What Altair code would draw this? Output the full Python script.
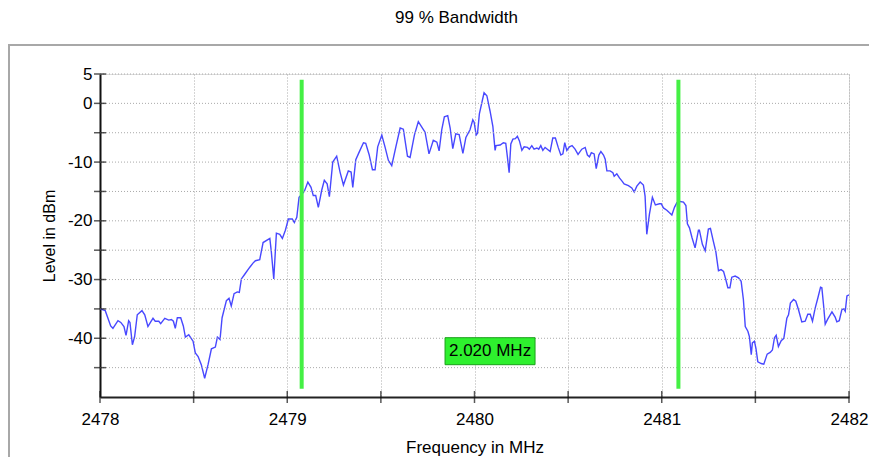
import altair as alt
import pandas as pd

# ---- data ----
freq = [
    2478.000, 2478.028, 2478.057, 2478.069, 2478.096, 2478.111, 2478.128, 2478.139, 2478.153, 2478.160,
    2478.173, 2478.185, 2478.199, 2478.224, 2478.239, 2478.256, 2478.271, 2478.283, 2478.295, 2478.314,
    2478.324, 2478.346, 2478.367, 2478.381, 2478.392, 2478.402, 2478.413, 2478.431, 2478.445, 2478.456,
    2478.474, 2478.497, 2478.509, 2478.524, 2478.541, 2478.559, 2478.577, 2478.595, 2478.616, 2478.627,
    2478.641, 2478.652, 2478.675, 2478.689, 2478.701, 2478.716, 2478.733, 2478.744, 2478.755, 2478.773,
    2478.800, 2478.817, 2478.830, 2478.853, 2478.871, 2478.907, 2478.915, 2478.928, 2478.942, 2478.960,
    2478.974, 2478.990, 2479.006, 2479.027, 2479.038, 2479.051, 2479.063, 2479.091, 2479.110, 2479.127,
    2479.139, 2479.152, 2479.166, 2479.184, 2479.198, 2479.213, 2479.225, 2479.243, 2479.264, 2479.282,
    2479.300, 2479.326, 2479.341, 2479.350, 2479.366, 2479.384, 2479.407, 2479.419, 2479.437, 2479.455,
    2479.469, 2479.483, 2479.505, 2479.522, 2479.540, 2479.558, 2479.580, 2479.603, 2479.620, 2479.642,
    2479.656, 2479.679, 2479.700, 2479.722, 2479.736, 2479.757, 2479.780, 2479.799, 2479.811, 2479.825,
    2479.839, 2479.857, 2479.870, 2479.884, 2479.900, 2479.918, 2479.938, 2479.954, 2479.976, 2479.991,
    2479.998, 2480.009, 2480.016, 2480.026, 2480.051, 2480.066, 2480.083, 2480.098, 2480.110, 2480.115,
    2480.137, 2480.154, 2480.167, 2480.176, 2480.185, 2480.194, 2480.205, 2480.218, 2480.229, 2480.240,
    2480.253, 2480.265, 2480.283, 2480.293, 2480.306, 2480.318, 2480.333, 2480.343, 2480.354, 2480.365,
    2480.377, 2480.389, 2480.404, 2480.418, 2480.432, 2480.447, 2480.461, 2480.472, 2480.482, 2480.493,
    2480.507, 2480.521, 2480.537, 2480.553, 2480.573, 2480.591, 2480.603, 2480.614, 2480.624, 2480.639,
    2480.650, 2480.664, 2480.675, 2480.689, 2480.698, 2480.707, 2480.724, 2480.739, 2480.746, 2480.760,
    2480.774, 2480.787, 2480.799, 2480.822, 2480.840, 2480.853, 2480.867, 2480.885, 2480.902, 2480.911,
    2480.920, 2480.934, 2480.950, 2480.966, 2480.988, 2480.997, 2481.009, 2481.027, 2481.040, 2481.054,
    2481.068, 2481.081, 2481.098, 2481.116, 2481.129, 2481.137, 2481.148, 2481.161, 2481.178, 2481.196,
    2481.201, 2481.217, 2481.232, 2481.249, 2481.260, 2481.275, 2481.289, 2481.303, 2481.317, 2481.330,
    2481.342, 2481.353, 2481.364, 2481.374, 2481.392, 2481.410, 2481.424, 2481.436, 2481.446, 2481.460,
    2481.468, 2481.478, 2481.484, 2481.495, 2481.503, 2481.513, 2481.531, 2481.545, 2481.563, 2481.579,
    2481.591, 2481.602, 2481.611, 2481.623, 2481.638, 2481.652, 2481.668, 2481.677, 2481.687, 2481.704,
    2481.716, 2481.730, 2481.748, 2481.766, 2481.780, 2481.793, 2481.805, 2481.819, 2481.834, 2481.848,
    2481.855, 2481.864, 2481.873, 2481.887, 2481.909, 2481.926, 2481.935, 2481.948, 2481.962, 2481.973,
    2481.980, 2481.989, 2482.000,
]
level = [
    -35.0, -35.3, -37.9, -38.3, -37.0, -37.3, -38.0, -39.5, -37.0, -37.3,
    -41.1, -39.7, -36.0, -35.3, -36.0, -38.0, -37.2, -36.6, -37.1, -37.1,
    -37.5, -36.6, -36.9, -36.8, -37.1, -38.3, -36.5, -36.5, -37.9, -39.8,
    -39.4, -40.5, -42.5, -43.1, -44.5, -46.8, -44.5, -41.8, -41.5, -39.8,
    -40.2, -36.5, -33.6, -33.2, -34.5, -32.4, -32.1, -32.2, -29.9, -29.1,
    -27.9, -27.2, -26.8, -26.6, -23.7, -23.0, -25.3, -29.9, -22.1, -22.3,
    -23.0, -21.6, -19.7, -19.7, -20.3, -19.4, -16.0, -15.0, -13.4, -14.3,
    -15.7, -15.7, -17.7, -14.8, -13.1, -13.7, -15.9, -10.0, -9.0, -11.7,
    -13.9, -11.5, -11.7, -14.3, -9.6, -8.3, -6.7, -6.8, -8.7, -11.3,
    -11.3, -7.4, -5.4, -7.4, -9.7, -10.6, -7.4, -4.2, -4.4, -9.0,
    -9.2, -5.4, -3.1, -4.2, -4.9, -8.6, -6.3, -6.6, -8.1, -4.5,
    -2.3, -2.1, -4.2, -7.7, -5.2, -5.3, -8.5, -5.8, -4.5, -2.8,
    -3.2, -5.4, -5.1, -1.8, 1.8, 1.3, -1.3, -3.9, -8.0, -7.2,
    -7.1, -6.7, -6.8, -9.2, -11.8, -6.9, -6.1, -6.0, -5.6, -6.4,
    -8.0, -7.4, -7.5, -7.8, -7.2, -7.8, -7.6, -7.8, -7.2, -8.0,
    -7.5, -7.8, -8.2, -5.9, -5.9, -7.5, -8.8, -8.6, -6.7, -8.0,
    -7.4, -7.2, -7.8, -8.7, -7.8, -7.5, -8.8, -9.1, -8.4, -8.6,
    -11.1, -8.8, -8.2, -8.8, -9.5, -11.5, -11.5, -11.8, -12.4, -12.0,
    -12.7, -13.2, -13.7, -14.0, -14.4, -15.1, -14.1, -13.4, -13.9, -15.8,
    -22.3, -18.9, -16.0, -17.3, -17.1, -17.1, -17.8, -18.2, -18.6, -19.0,
    -17.7, -16.9, -16.7, -16.8, -17.4, -20.5, -21.2, -22.8, -24.6, -21.6,
    -21.6, -24.0, -25.1, -21.4, -21.3, -23.4, -25.3, -28.5, -28.3, -28.6,
    -30.0, -31.4, -31.4, -29.6, -29.4, -29.7, -30.3, -33.4, -38.0, -38.8,
    -39.7, -42.8, -40.8, -40.5, -41.7, -44.0, -44.3, -44.4, -42.7, -42.4,
    -42.0, -39.9, -39.5, -41.4, -40.4, -40.0, -36.6, -36.0, -34.0, -33.4,
    -33.7, -35.1, -37.2, -37.1, -35.9, -35.9, -37.1, -34.9, -33.1, -31.3,
    -31.4, -34.3, -37.6, -36.7, -35.5, -36.4, -37.2, -37.0, -35.1, -35.0,
    -35.4, -32.8, -32.6,
]
marker_freq = [2479.077, 2481.089]
marker_top = 4.0
marker_bottom = -48.6
bw_label = "2.020 MHz"
bw_label_freq = 2480.083
bw_label_level = -42.2
x_tick_values = [2478, 2478.5, 2479, 2479.5, 2480, 2480.5, 2481, 2481.5, 2482]
y_label_values = [5, 0, -10, -20, -30, -40]
y_tick_values = [-45, -40, -35, -30, -25, -20, -15, -10, -5, 0, 5]

FONT = "Liberation Sans"
W, H = 749, 323

trace = pd.DataFrame({"f": freq, "lvl": level})
markers = pd.DataFrame({"f": marker_freq, "top": [marker_top] * 2, "bot": [marker_bottom] * 2})
label_df = pd.DataFrame({"f": [bw_label_freq], "lvl": [bw_label_level], "t": [bw_label]})
xt = pd.DataFrame({"f": x_tick_values, "lvl": [-50] * len(x_tick_values)})
yt = pd.DataFrame({"f": [2478] * len(y_tick_values), "lvl": y_tick_values})
yg = pd.DataFrame({"f0": [2478] * len(y_tick_values), "f1": [2482] * len(y_tick_values),
                   "lvl": y_tick_values})

xs = alt.Scale(domain=[2478, 2482], nice=False, zero=False)
ys = alt.Scale(domain=[-50, 5], nice=False, zero=False)

x_axis = alt.Axis(
    values=x_tick_values, title="Frequency in MHz",
    labelExpr="datum.value % 1 == 0 ? '' + datum.value : ''",
    ticks=False, labelPadding=14, labelFontSize=17, labelColor="black", labelFont=FONT,
    titleFontSize=17, titleFont=FONT, titleFontWeight="normal", titleColor="black", titlePadding=12,
    grid=True, gridDash=[1, 2], gridColor="#aaaaaa", gridWidth=1,
    domainColor="#222222", domainWidth=2, labelFlush=False, labelOverlap=False,
)
y_axis = alt.Axis(
    values=y_label_values, title="Level in dBm",
    labelExpr="'' + datum.value",
    ticks=False, labelPadding=8, labelFontSize=17, labelColor="black", labelFont=FONT,
    titleFontSize=16, titleFont=FONT, titleFontWeight="normal", titleColor="black", titlePadding=10,
    grid=False, domainColor="#111111", domainWidth=2, labelOverlap=False, labelFlush=False,
)

frame = alt.Chart(pd.DataFrame({"a": [0]})).mark_rect(
    fillOpacity=0, stroke="#a8a8a8", strokeWidth=2
).encode(x=alt.value(-91), x2=alt.value(810), y=alt.value(-29), y2=alt.value(420))

ygrid = alt.Chart(yg).mark_rule(color="#aaaaaa", strokeWidth=1, strokeDash=[1, 2]).encode(
    x=alt.X("f0:Q", scale=xs), x2="f1:Q", y=alt.Y("lvl:Q", scale=ys)
)

line = alt.Chart(trace).mark_line(color="#4848ff", strokeWidth=1.4).encode(
    x=alt.X("f:Q", scale=xs, axis=x_axis),
    y=alt.Y("lvl:Q", scale=ys, axis=y_axis),
)

mk = alt.Chart(markers).mark_rule(color="#44f044", strokeWidth=4).encode(
    x="f:Q", y="top:Q", y2="bot:Q"
)

box = alt.Chart(label_df).mark_rect(
    width=90, height=27, fill="#2ef02e", stroke="#1aa01a", strokeWidth=1
).encode(x="f:Q", y="lvl:Q")

txt = alt.Chart(label_df).mark_text(
    font=FONT, fontSize=17, color="black", align="center", baseline="middle"
).encode(x="f:Q", y="lvl:Q", text="t:N")

xticks = alt.Chart(xt).mark_tick(orient="vertical", size=12, thickness=1.5, color="#111111").encode(
    x="f:Q", y="lvl:Q"
)
yticks = alt.Chart(yt).mark_tick(orient="horizontal", size=12, thickness=1.5, color="#111111").encode(
    x="f:Q", y="lvl:Q"
)

chart = alt.layer(line, ygrid, frame, mk, box, txt, xticks, yticks).properties(
    width=W, height=H,
    title=alt.TitleParams("99 % Bandwidth", font=FONT, fontSize=17, fontWeight="normal",
                          color="black", anchor="middle", frame="bounds", dx=-3, offset=17),
    autosize=alt.AutoSizeParams(type="none"),
    padding={"left": 92, "top": 66, "right": 20, "bottom": 60},
).configure_view(stroke=None).configure(background="white")

chart.save("out.html", embed_options={"renderer": "svg", "actions": False})
